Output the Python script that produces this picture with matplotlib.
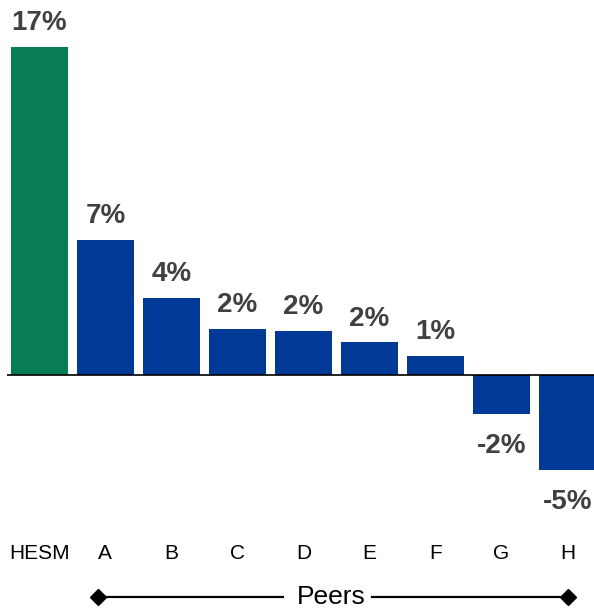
import matplotlib
matplotlib.use("Agg")
import matplotlib.pyplot as plt
from matplotlib.transforms import blended_transform_factory

categories = ["HESM", "A", "B", "C", "D", "E", "F", "G", "H"]
values = [17.0, 7.0, 4.0, 2.4, 2.3, 1.7, 1.0, -2.0, -4.9]
labels = ["17%", "7%", "4%", "2%", "2%", "2%", "1%", "-2%", "-5%"]
colors = ["#077C55"] + ["#003A96"] * 8

plt.rcParams['font.family'] = ['Liberation Sans', 'DejaVu Sans']

fig = plt.figure(figsize=(5.94, 6.09), dpi=100)
ax = fig.add_axes([7/594, 89/609, 587/594, 520/609])
x = list(range(len(categories)))
ax.bar(x, values, width=0.86, color=colors)
ax.set_xlim(-0.49, 8.40)
ax.set_ylim(-(520-375)/19.3, 375/19.3)
ax.axhline(0, color="black", linewidth=1.2)
for s in ax.spines.values():
    s.set_visible(False)
ax.set_yticks([])
ax.set_xticks(x)
ax.set_xticklabels(categories, fontsize=15, color="#000000")
ax.tick_params(axis='x', length=0, pad=17)

for xi, v, lab in zip(x, values, labels):
    if v >= 0:
        ax.annotate(lab, (xi, v), xytext=(0, 12), textcoords="offset points",
                    ha="center", va="baseline", fontsize=20, fontweight="bold", color="#404040")
    else:
        ax.annotate(lab, (xi, v), xytext=(0, -14), textcoords="offset points",
                    ha="center", va="top", fontsize=20, fontweight="bold", color="#404040")

tr = blended_transform_factory(ax.transData, fig.transFigure)
yl = 12/609
x_left = (98-39.5)/66
x_right = (568-39.5)/66
x_text = (331-39.5)/66
gap_l = (283-39.5)/66
gap_r = (372-39.5)/66
ax.plot([x_left, gap_l], [yl, yl], transform=tr, color="black", lw=1.6, clip_on=False)
ax.plot([gap_r, x_right], [yl, yl], transform=tr, color="black", lw=1.6, clip_on=False)
ax.plot([x_left, x_right], [yl, yl], transform=tr, color="black", lw=0, marker="D",
        markersize=8, clip_on=False)
ax.text(x_text, yl, "Peers", transform=tr, ha="center", va="center", fontsize=19, color="#000000")

fig.savefig("out.png", dpi=100)
